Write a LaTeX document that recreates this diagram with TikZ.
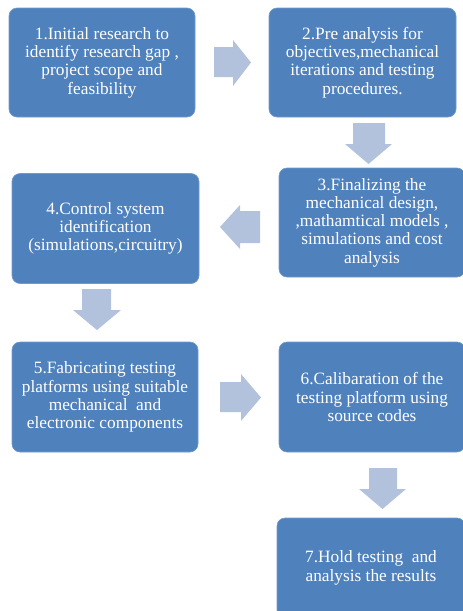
\documentclass[tikz,border=0pt]{standalone}
\usepackage{fontspec}
\setmainfont{Liberation Serif}
\definecolor{boxblue}{HTML}{4F81BD}
\definecolor{arrowblue}{HTML}{B2C1DC}
\begin{document}
\begin{tikzpicture}[x=1pt,y=-1pt,
  stepbox/.style={rectangle, rounded corners=8pt, fill=boxblue, draw=boxblue!80!white, line width=0.6pt,
    text=white, align=center, inner sep=0pt,
    font=\fontsize{17.3}{18.3}\selectfont},
  blockarrow/.style={fill=arrowblue, draw=none}]
\useasboundingbox (0,0) rectangle (463,611);
\clip (0,0) rectangle (463,611);
% boxes
\node[stepbox, minimum width=186pt, minimum height=109pt] (b1) at (102,62.5)
  {1.Initial research to\\identify research gap ,\\project scope and\\feasibility};
\node[stepbox, minimum width=187pt, minimum height=109pt] (b2) at (362.5,62.5)
  {2.Pre analysis for\\objectives,mechanical\\iterations and testing\\procedures.};
\node[stepbox, minimum width=186pt, minimum height=109pt] (b3) at (372,222.5)
  {3.Finalizing the\\mechanical design,\\,mathamtical models ,\\simulations and cost\\analysis};
\node[stepbox, minimum width=187pt, minimum height=110pt] (b4) at (105.5,228.5)
  {4.Control system\\identification\\(simulations,circuitry)};
\node[stepbox, minimum width=186pt, minimum height=110pt] (b5) at (105,397)
  {5.Fabricating testing\\platforms using suitable\\mechanical~ and\\electronic components};
\node[stepbox, minimum width=186pt, minimum height=110pt] (b6) at (372,397)
  {6.Calibaration of the\\testing platform using\\source codes};
\node[stepbox, minimum width=188pt, minimum height=100pt] (b7) at (371,568)
  {7.Hold testing~ and\\analysis the results};
% block arrows
% 1 -> 2 (right)
\fill[blockarrow] (214,47) -- (233,47) -- (233,40) -- (251,62.5) -- (233,86) -- (233,77) -- (214,77) -- cycle;
% 2 -> 3 (down)
\fill[blockarrow] (353,123) -- (385,123) -- (385,144) -- (392,144) -- (368.5,164) -- (345,144) -- (353,144) -- cycle;
% 3 -> 4 (left)
\fill[blockarrow] (260,211) -- (240,211) -- (240,205) -- (220,227) -- (240,249) -- (240,243) -- (260,243) -- cycle;
% 4 -> 5 (down)
\fill[blockarrow] (82,289) -- (111,289) -- (111,310) -- (121,310) -- (97,330) -- (73,310) -- (82,310) -- cycle;
% 5 -> 6 (right)
\fill[blockarrow] (220,382) -- (241,382) -- (241,374) -- (261,397.5) -- (241,421) -- (241,412) -- (220,412) -- cycle;
% 6 -> 7 (down)
\fill[blockarrow] (369,468) -- (397,468) -- (397,489) -- (406,489) -- (382.5,509) -- (359,489) -- (369,489) -- cycle;
\end{tikzpicture}
\end{document}
